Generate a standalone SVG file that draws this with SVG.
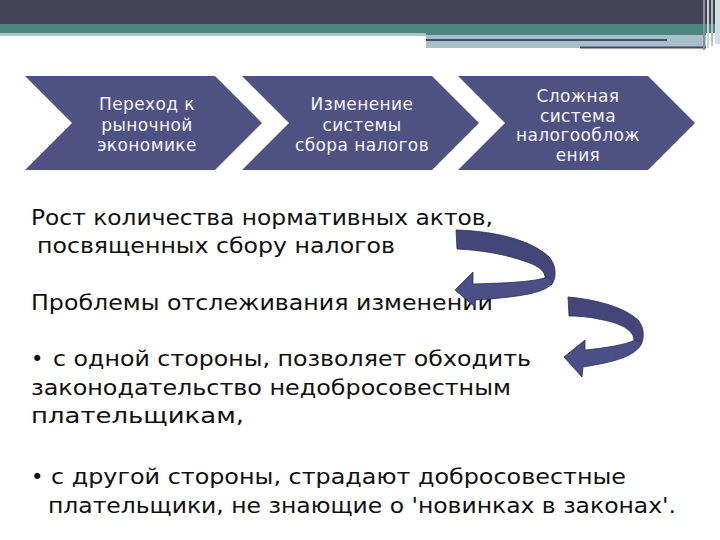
<svg xmlns="http://www.w3.org/2000/svg" width="720" height="540" viewBox="0 0 720 540">
<defs>
<style>
.chev{fill:#4f5183}
.ct{font-family:"DejaVu Sans",Verdana,sans-serif;font-size:17px;letter-spacing:0.4px;fill:#f4f4f8;text-anchor:middle}
.bt{font-family:"DejaVu Sans",Verdana,sans-serif;font-size:21px;fill:#111111}
.arr{fill:#4c4e86;stroke:#2c2d58;stroke-width:0.8}
.back{fill:#44467a;stroke:#2c2d58;stroke-width:0.8}
</style>
</defs>
<rect width="720" height="540" fill="#ffffff"/>
<g id="header">
<rect x="0" y="0" width="720" height="24" fill="#424456"/>
<rect x="0" y="24" width="720" height="9" fill="#4a8580"/>
<rect x="0" y="33" width="426" height="3" fill="#a9c5c6"/>
<rect x="426" y="33" width="280" height="2" fill="#4a8580"/>
<rect x="426" y="35" width="280" height="13" fill="#a9bec9"/>
<rect x="426" y="39" width="241" height="2" fill="#3e4d68"/>
<rect x="580" y="46.5" width="126" height="2" fill="#3e4866"/>
<rect x="703" y="0" width="2" height="50" fill="#8c909c"/>
<rect x="707" y="0" width="2" height="48" fill="#c9d2d8"/>
<rect x="711" y="0" width="2" height="46" fill="#b5c0c8"/>
<rect x="715" y="0" width="5" height="44" fill="#d4dde2"/>
</g>
<g id="node1">
<polygon class="chev" points="25,76 215,76 262,123 215,170 25,170 72,123"/>
<text class="ct" x="147" y="110">Переход к</text>
<text class="ct" x="147" y="130.5">рыночной</text>
<text class="ct" x="147" y="151">экономике</text>
</g>
<g id="node2">
<polygon class="chev" points="242,76 432,76 479,123 432,170 242,170 289,123"/>
<text class="ct" x="362" y="110">Изменение</text>
<text class="ct" x="362" y="130.5">системы</text>
<text class="ct" x="362" y="151">сбора налогов</text>
</g>
<g id="node3">
<polygon class="chev" points="458,76 648,76 695,123 648,170 458,170 505,123"/>
<text class="ct" x="578" y="102">Сложная</text>
<text class="ct" x="578" y="121.5">система</text>
<text class="ct" x="578" y="141">налогооблож</text>
<text class="ct" x="578" y="160.5">ения</text>
</g>
<g id="body-text">
<text class="bt" x="31" y="225" textLength="462" lengthAdjust="spacingAndGlyphs">Рост количества нормативных актов,</text>
<text class="bt" x="37" y="253" textLength="358" lengthAdjust="spacingAndGlyphs">посвященных сбору налогов</text>
<text class="bt" x="31" y="310" textLength="462" lengthAdjust="spacingAndGlyphs">Проблемы отслеживания изменений</text>
<text class="bt" x="31" y="366">•</text>
<text class="bt" x="53" y="366" textLength="478" lengthAdjust="spacingAndGlyphs">с одной стороны, позволяет обходить</text>
<text class="bt" x="31" y="395" textLength="480" lengthAdjust="spacingAndGlyphs">законодательство недобросовестным</text>
<text class="bt" x="31" y="423" textLength="213" lengthAdjust="spacingAndGlyphs">плательщикам,</text>
<text class="bt" x="31" y="484">•</text>
<text class="bt" x="51" y="484" textLength="575" lengthAdjust="spacingAndGlyphs">с другой стороны, страдают добросовестные</text>
<text class="bt" x="48" y="513" textLength="628" lengthAdjust="spacingAndGlyphs">плательщики, не знающие о 'новинках в законах'.</text>
</g>
<g id="connectors">
<g id="arrow1">
<path class="back" d="M456,230 C495,231 530,240 548,256 C558,266 556,280 551,285 L545,279 C546,272 539,266 527,262 C505,254 480,250 457,249 Z"/>
<path class="arr" d="M553,282 C547,293 520,297 475,300 L475,307 L455,290 L473,272 L473,284 C505,283 535,282 547,277 Z"/>
</g>
<g id="arrow2">
<path class="back" d="M568,297 C600,300 625,308 638,320 C645,328 644,340 641,344 L634,340 C634,332 625,326 612,322 C595,318 585,316 569,316 Z"/>
<path class="arr" d="M642,343 C636,356 615,362 583,367 L582,377 L564,357 L585,340 L585,350 C605,348 625,345 635,340 Z"/>
</g>
</g>
</svg>
